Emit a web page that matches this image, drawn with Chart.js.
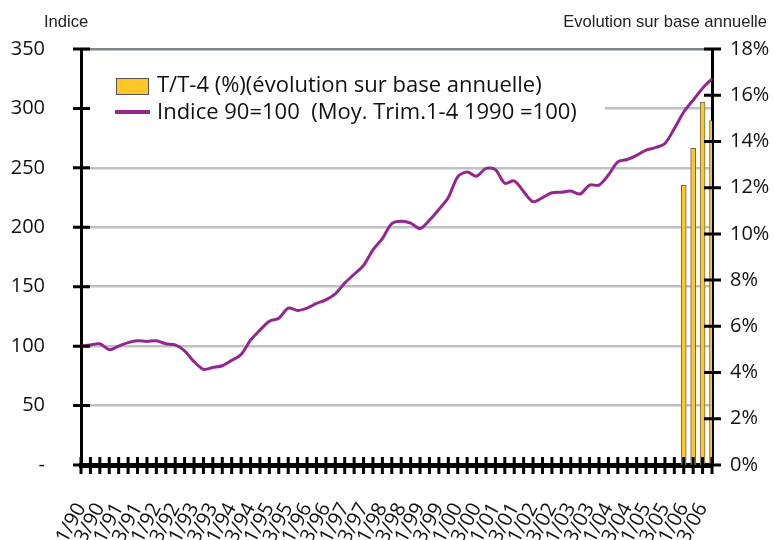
<!DOCTYPE html>
<html>
<head>
<meta charset="utf-8">
<script src="https://cdn.jsdelivr.net/npm/chart.js@4.4.1/dist/chart.umd.min.js"></script>
<style>
  html, body { margin: 0; padding: 0; background: #fff; }
  #wrap { width: 774px; height: 540px; }
</style>
</head>
<body>
<div id="wrap"><canvas id="chart" width="774" height="540"></canvas></div>
<script>
// quarters 1/90 .. 4/06
const quarters = [
  "1/90","2/90","3/90","4/90","1/91","2/91","3/91","4/91","1/92","2/92","3/92","4/92",
  "1/93","2/93","3/93","4/93","1/94","2/94","3/94","4/94","1/95","2/95","3/95","4/95",
  "1/96","2/96","3/96","4/96","1/97","2/97","3/97","4/97","1/98","2/98","3/98","4/98",
  "1/99","2/99","3/99","4/99","1/00","2/00","3/00","4/00","1/01","2/01","3/01","4/01",
  "1/02","2/02","3/02","4/02","1/03","2/03","3/03","4/03","1/04","2/04","3/04","4/04",
  "1/05","2/05","3/05","4/05","1/06","2/06","3/06","4/06"
]

const indexValues = [
  100, 101, 102, 97, 100, 103, 104.5, 104, 104.5, 102,
  101, 96, 87, 80.5, 82, 83.5, 88, 93, 105, 113.5,
  121, 123.5, 132, 130, 132, 136, 139, 144, 153, 160.5,
  168, 181, 190.5, 203, 205, 203.5, 199, 206, 215, 225,
  242.5, 246.5, 243, 249.5, 248.5, 237, 239, 230, 221.5, 225,
  229, 229.5, 230.5, 228, 235.5, 235.5, 244, 255, 257, 260.5,
  265, 267, 270.5, 283, 297, 307, 317, 325
]

// T/T-4 only for the 2006 quarters
const yoyQuarters = ["1/06", "2/06", "3/06", "4/06"]
const yoyValues = [12.1, 13.7, 15.7, 14.9]

const leftTicks = { min: 0, max: 350, step: 50 }
const rightTicks = { min: 0, max: 18, step: 2 }

const barLabel = "T/T-4 (%)(évolution sur base annuelle)"
const lineLabel = "Indice 90=100  (Moy. Trim.1-4 1990 =100)"

const yoySeries = quarters.map(q => {
  const k = yoyQuarters.indexOf(q)
  return k >= 0 ? yoyValues[k] : null
})

const FONT = "'Open Sans', 'Noto Sans', sans-serif"

const axesPlugin = {
  id: "axesTicks",
  afterDraw(chart) {
    const { ctx, chartArea } = chart
    const x = chart.scales.x
    const y = chart.scales.y
    const y1 = chart.scales.y1
    ctx.save()
    ctx.strokeStyle = "#000"
    ctx.lineWidth = 3
    ctx.beginPath()
    y.ticks.forEach((t, i) => {
      const py = y.getPixelForTick(i)
      ctx.moveTo(chartArea.left - 8, py)
      ctx.lineTo(chartArea.left + 9, py)
    })
    y1.ticks.forEach((t, i) => {
      const py = y1.getPixelForTick(i)
      ctx.moveTo(chartArea.right - 8, py)
      ctx.lineTo(chartArea.right + 9, py)
    })
    ctx.stroke()
    ctx.beginPath()
    quarters.forEach((q, i) => {
      const px = x.getPixelForValue(i)
      ctx.moveTo(px, chartArea.bottom - 8)
      ctx.lineTo(px, chartArea.bottom + 9)
    })
    ctx.stroke()

    // axis titles
    ctx.fillStyle = "#222"
    ctx.font = "16.6px 'Liberation Sans', Arial, sans-serif"
    ctx.textBaseline = "alphabetic"
    ctx.textAlign = "left"
    ctx.fillText("Indice", 44, 27)
    ctx.textAlign = "right"
    ctx.fillText("Evolution sur base annuelle", 767, 27)
    ctx.restore()
  }
}

const legendPlugin = {
  id: "boxLegend",
  beforeDatasetsDraw(chart) {
    const { ctx, chartArea } = chart
    const ds = chart.data.datasets
    const left = chartArea.left
    const top = chartArea.top
    ctx.save()
    ctx.fillStyle = "#fff"
    ctx.fillRect(left + 2, top + 16, 522, 64)

    ctx.fillStyle = ds[0].backgroundColor
    ctx.strokeStyle = "#555"
    ctx.lineWidth = 1
    ctx.fillRect(left + 35, top + 29, 32, 16)
    ctx.strokeRect(left + 35.5, top + 29.5, 32, 16)

    ctx.strokeStyle = ds[1].borderColor
    ctx.lineWidth = 4
    ctx.beginPath()
    ctx.moveTo(left + 34, top + 63)
    ctx.lineTo(left + 69, top + 63)
    ctx.stroke()

    ctx.fillStyle = "#111"
    ctx.font = "22px " + FONT
    ctx.textAlign = "left"
    ctx.textBaseline = "middle"
    ctx.fillText(ds[0].label, left + 76, top + 37)
    ctx.fillText(ds[1].label, left + 76, top + 64)
    ctx.restore()
  }
}

new Chart(document.getElementById("chart"), {
  type: "bar",
  data: {
    labels: quarters,
    datasets: [
      {
        type: "bar",
        label: barLabel,
        data: yoySeries,
        yAxisID: "y1",
        backgroundColor: "#FFC726",
        borderColor: "#666",
        borderWidth: 1,
        borderSkipped: false,
        barThickness: 5,
        order: 2
      },
      {
        type: "line",
        label: lineLabel,
        data: indexValues,
        yAxisID: "y",
        borderColor: "#93278F",
        borderWidth: 3,
        pointRadius: 0,
        tension: 0.3,
        fill: false,
        order: 1
      }
    ]
  },
  options: {
    responsive: false,
    animation: false,
    layout: { padding: { top: 49, left: 0, right: 0, bottom: 0 } },
    plugins: {
      legend: { display: false },
      tooltip: { enabled: false }
    },
    scales: {
      x: {
        offset: false,
        grid: { display: false, drawTicks: false, offset: false },
        border: { display: true, color: "#000", width: 5 },
        ticks: {
          autoSkip: false,
          minRotation: 62,
          maxRotation: 62,
          padding: 34,
          color: "#111",
          font: { family: FONT, size: 20 },
          callback: (val, i) => (i % 2 === 0 ? quarters[i] : "")
        },
        afterFit: s => { s.height = 75 }
      },
      y: {
        position: "left",
        min: leftTicks.min,
        max: leftTicks.max,
        grid: {
          drawTicks: false,
          lineWidth: 2.5,
          color: c => c.tick.value === 350 ? "#80868a" : (c.tick.value === 0 ? "rgba(0,0,0,0)" : "#bdc1c3")
        },
        border: { display: true, color: "#000", width: 3 },
        ticks: {
          stepSize: leftTicks.step,
          padding: 36,
          color: "#111",
          font: { family: FONT, size: 20 },
          callback: v => (v === 0 ? "-" : v)
        },
        afterFit: s => { s.width = 81 }
      },
      y1: {
        position: "right",
        min: rightTicks.min,
        max: rightTicks.max,
        grid: { display: false, drawTicks: false },
        border: { display: true, color: "#000", width: 3 },
        ticks: {
          stepSize: rightTicks.step,
          padding: 18,
          color: "#111",
          font: { family: FONT, size: 20 },
          callback: v => v + "%"
        },
        afterFit: s => { s.width = 62 }
      }
    }
  },
  plugins: [legendPlugin, axesPlugin]
})
</script>
</body>
</html>
